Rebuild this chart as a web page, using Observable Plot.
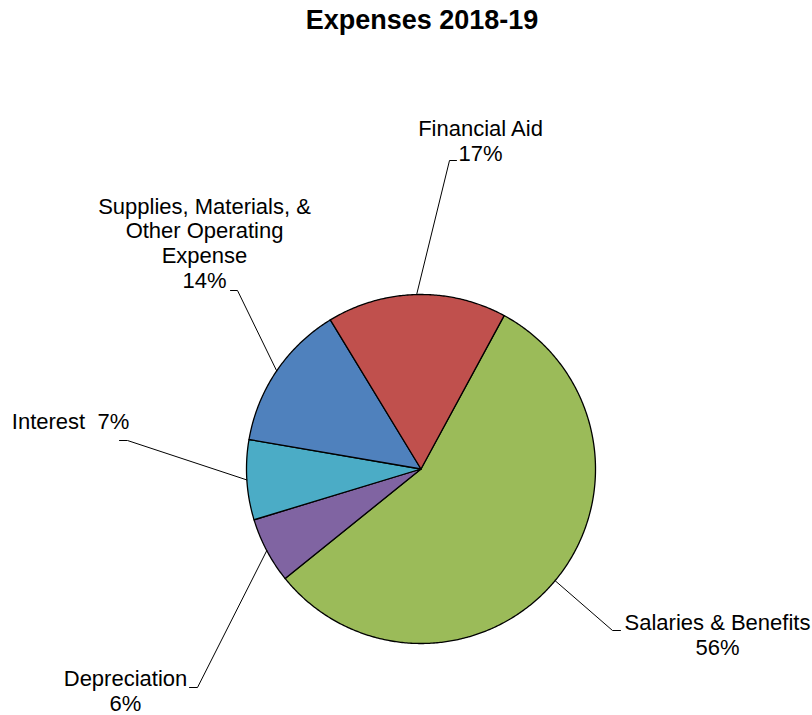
<!DOCTYPE html>
<html>
<head>
<meta charset="utf-8">
<script src="https://cdn.jsdelivr.net/npm/d3@7"></script>
<script src="https://cdn.jsdelivr.net/npm/@observablehq/plot@0.6"></script>
<style>
  body { margin: 0; background: #fff; }
  #title {
    font: bold 27px "Liberation Sans", Arial, sans-serif;
    height: 30px; line-height: 30px;
    padding: 5px 0 0 32px; width: 780px;
    text-align: center; color: #000;
  }
  #chart svg { display: block; }
</style>
</head>
<body>
<div id="title">Expenses 2018-19</div>
<div id="chart"></div>
<script>
// ---- data ----
const categories = ["Salaries & Benefits", "Depreciation", "Interest", "Supplies, Materials, & Other Operating Expense", "Financial Aid"];
const shares = [56.3, 6.1, 7.4, 13.6, 16.6];
const labelNames = ["Salaries & Benefits", "Depreciation", "Interest", "Supplies, Materials, &\nOther Operating\nExpense", "Financial Aid"];
const labelSeparators = ["\n", "\n", "\u00a0 ", "\n", "\n"];
const sliceColors = ["#9BBB59", "#8064A2", "#4BACC6", "#4F81BD", "#C0504D"];
const startAngleDeg = 28.45;

// ---- layout (pixels in the svg) ----
const W = 812, H = 680, CX = 420.5, CY = 433.5, R = 174.5;
const labelLayout = {
  "Salaries & Benefits": {elbow: [612, 595], end: [620, 595], text: [717, 619]},
  "Depreciation": {elbow: [197, 652], end: [189, 652], text: [125, 675]},
  "Interest": {elbow: [127, 405], end: [119, 405], text: [70, 393]},
  "Supplies, Materials, & Other Operating Expense": {elbow: [237, 255], end: [230, 255], text: [204, 252]},
  "Financial Aid": {elbow: [449, 125], end: [456, 125], text: [480, 125]}
};
const toU = ([px, py]) => ({u: (px - CX) / R, v: (CY - py) / R});

const start = startAngleDeg * Math.PI / 180;
const arcs = d3.pie().sort(null).value(d => d).startAngle(start).endAngle(start + 2 * Math.PI)(shares);

const sliceRows = [];
const leaderRows = [];
const labelRows = [];
arcs.forEach((a, i) => {
  const cat = categories[i];
  sliceRows.push({cat, u: 0, v: 0});
  const n = Math.max(2, Math.ceil((a.endAngle - a.startAngle) / (Math.PI / 360)));
  for (let k = 0; k <= n; ++k) {
    const t = a.startAngle + (a.endAngle - a.startAngle) * k / n;
    sliceRows.push({cat, u: Math.sin(t), v: Math.cos(t)});
  }
  sliceRows.push({cat, u: 0, v: 0});

  const mid = (a.startAngle + a.endAngle) / 2;
  const L = labelLayout[cat];
  leaderRows.push({cat, u: Math.sin(mid), v: Math.cos(mid)});
  leaderRows.push({cat, ...toU(L.elbow)});
  leaderRows.push({cat, ...toU(L.end)});

  labelRows.push({cat, ...toU(L.text), text: labelNames[i] + labelSeparators[i] + Math.round(shares[i]) + "%"});
});

const chart = Plot.plot({
  width: W,
  height: H,
  margin: 0,
  x: {domain: [(0 - CX) / R, (W - CX) / R], axis: null},
  y: {domain: [(CY - H) / R, CY / R], axis: null},
  color: {domain: categories, range: sliceColors},
  marks: [
    Plot.line(sliceRows, {x: "u", y: "v", z: "cat", fill: "cat", stroke: "black", strokeWidth: 1.3, strokeLinejoin: "round"}),
    Plot.line(leaderRows, {x: "u", y: "v", z: "cat", stroke: "black", strokeWidth: 1}),
    Plot.text(labelRows, {x: "u", y: "v", text: "text", fontSize: 22, fontFamily: "Liberation Sans, Arial, sans-serif", lineAnchor: "bottom", lineHeight: 1.12, fill: "black"})
  ]
});
document.getElementById("chart").appendChild(chart);
</script>
</body>
</html>
